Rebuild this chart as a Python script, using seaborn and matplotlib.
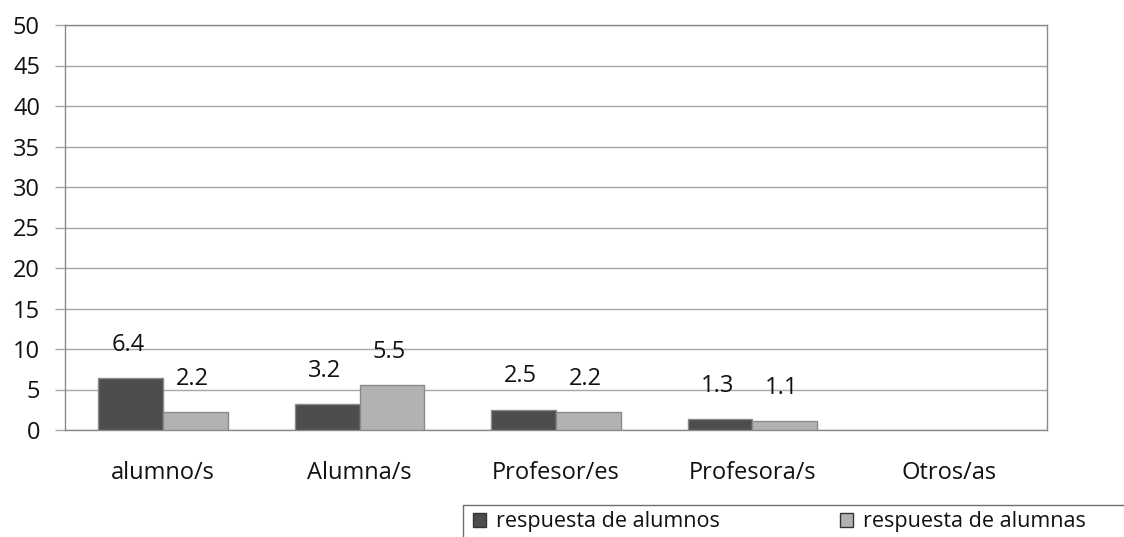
import matplotlib
matplotlib.use("Agg")
import matplotlib.pyplot as plt
from matplotlib.patches import Rectangle
from matplotlib.ticker import FixedLocator, MultipleLocator
import numpy as np
import pandas as pd
import seaborn as sns

categorias = ["alumno/s", "Alumna/s", "Profesor/es", "Profesora/s", "Otros/as"]
alumnos = [6.4, 3.2, 2.5, 1.3, np.nan]
alumnas = [2.2, 5.5, 2.2, 1.1, np.nan]
series = ["respuesta de alumnos", "respuesta de alumnas"]
colores = ["#4d4d4d", "#b2b2b2"]

df = pd.DataFrame({
    "categoria": categorias * 2,
    "valor": alumnos + alumnas,
    "serie": [series[0]] * len(categorias) + [series[1]] * len(categorias),
})

sns.set_style("white")
plt.rcParams["font.family"] = ["Open Sans", "DejaVu Sans"]
fs = 17

fig = plt.figure(figsize=(11.24, 5.37), dpi=100)
ax = fig.add_axes([65 / 1124, 107 / 537, 982 / 1124, 405 / 537])

sns.barplot(data=df, x="categoria", y="valor", hue="serie", order=categorias,
            hue_order=series, palette=colores, width=0.66, edgecolor="#8a8a8a",
            linewidth=1, errorbar=None, ax=ax, zorder=3)

# etiquetas encima de las barras
for cont in ax.containers:
    for rect in cont:
        h = rect.get_height()
        if np.isnan(h):
            continue
        ax.annotate(f"{h:.1f}", (rect.get_x() + rect.get_width() / 2, h),
                    xytext=(-2, 24), textcoords="offset points",
                    ha="center", va="center", fontsize=fs, color="#111111")

ax.set_ylim(0, 50)
ax.set_xlim(-0.5, len(categorias) - 0.5)
ax.yaxis.set_major_locator(MultipleLocator(5))
ax.grid(axis="y", color="#a8a8a8", linewidth=1, zorder=0)
ax.set_xlabel("")
ax.set_ylabel("")

ax.xaxis.set_minor_locator(FixedLocator(np.arange(-0.5, len(categorias), 1)))
ax.tick_params(axis="x", which="major", length=0, pad=22, labelsize=fs, labelcolor="#111111")
ax.tick_params(axis="x", which="minor", length=7, width=1, color="#8a8a8a", direction="out")
ax.tick_params(axis="y", length=7, width=1, color="#a8a8a8", pad=11, labelsize=fs,
               labelcolor="#111111", left=True)

for s in ax.spines.values():
    s.set_color("#8a8a8a")
    s.set_linewidth(1)

# caja de la leyenda (sale del borde de la figura)
fig.patches.append(Rectangle((463 / 1124, -0.05), 0.7, 0.05 + 32 / 537,
                             transform=fig.transFigure, fill=False,
                             edgecolor="#6e6e6e", linewidth=1))

leg = ax.legend(loc="center left", bbox_to_anchor=(473 / 1124, 15 / 537),
                bbox_transform=fig.transFigure, ncol=2, fontsize=15.5,
                frameon=False, handlelength=0.6, handleheight=0.6,
                handletextpad=0.45, columnspacing=5.6, borderpad=0,
                borderaxespad=0)
for t in leg.get_texts():
    t.set_color("#111111")
for h in leg.legend_handles:
    h.set_edgecolor("#333333")

fig.savefig("out.png", dpi=100)
